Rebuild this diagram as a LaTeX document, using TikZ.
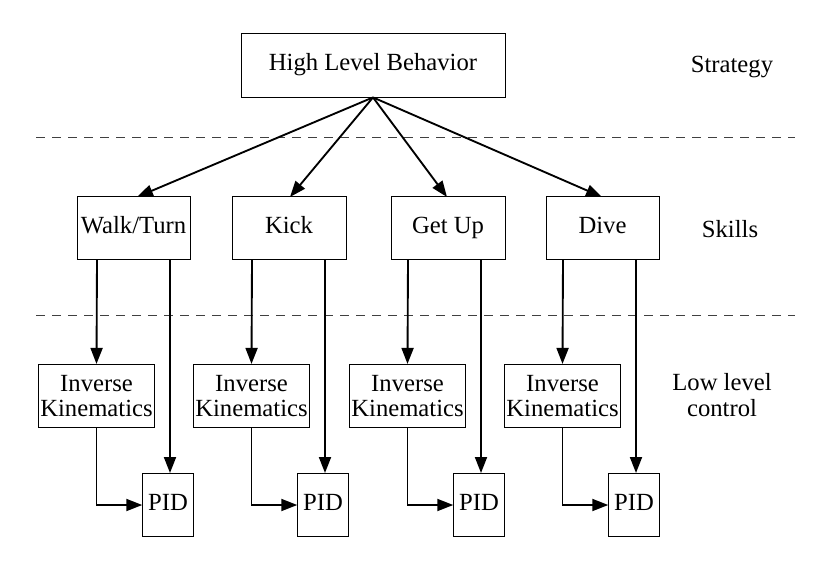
\documentclass[tikz,border=0pt]{standalone}
\usepackage{fontspec}
\setmainfont{Liberation Serif}
\usetikzlibrary{arrows.meta}
\begin{document}
\begin{tikzpicture}[x=0.75pt,y=-0.75pt,
  box/.style={draw, line width=0.6pt, inner sep=0pt, align=center, text height=12pt, text depth=3.5pt, font=\fontsize{18.5}{19}\selectfont},
  ibox/.style={draw, line width=0.6pt, inner sep=0pt, align=center, font=\fontsize{18.5}{19}\selectfont},
  lbl/.style={align=center, font=\fontsize{18.5}{19}\selectfont},
  arr/.style={line width=1.4pt, -{Triangle[length=12pt,width=9pt]}},
  sep/.style={dash pattern=on 7pt off 5pt, line width=0.6pt, draw=black!75}]
\useasboundingbox (0,0) rectangle (822,565);
\node[box, minimum width=198pt, minimum height=48pt] (hlb) at (373,65) {High Level Behavior};
\node[lbl] (strat) at (732,67) {Strategy};
\node[lbl] (skl) at (730,229) {Skills};
\node[lbl] (llc) at (722,395) {Low level\\control};
\coordinate (d1a) at (36,137); \coordinate (d1b) at (795,137);
\coordinate (d2a) at (36,315); \coordinate (d2b) at (795,315);
\draw[sep] (d1a) -- (d1b);
\draw[sep] (d2a) -- (d2b);
\foreach \n/\t/\xl/\xr/\xp in {a/{Walk/Turn}/77/190/137, b/Kick/232/346/290, c/Get Up/391/505/447, d/Dive/546/659/602}{
  \node[box, minimum width={(\xr-\xl)*0.75pt}, minimum height=47pt] (s\n) at ({(\xl+\xr)/2},228) {\t};
  \coordinate (sh\n) at (\xp,197);
  \draw[arr] (hlb.south) -- (sh\n);
}
\foreach \n/\xl in {a/38,b/193,c/349,d/504}{
  \node[ibox, minimum width=87pt, minimum height=47.5pt] (ik\n) at ({\xl+58.5},396) {Inverse\\Kinematics};
  \node[box, minimum width=38pt, minimum height=47.5pt] (pid\n) at ({\xl+130},505) {PID};
  \coordinate (u\n) at ({\xl+59},259.5);
  \coordinate (v\n) at ({\xl+132},259.5);
  \coordinate (w\n) at ({\xl+132},473);
  \draw[arr] (u\n) -- (ik\n.north);
  \draw[arr] (v\n) -- (w\n);
  \draw[arr] (ik\n.south) |- (pid\n.west);
}
\end{tikzpicture}
\end{document}
